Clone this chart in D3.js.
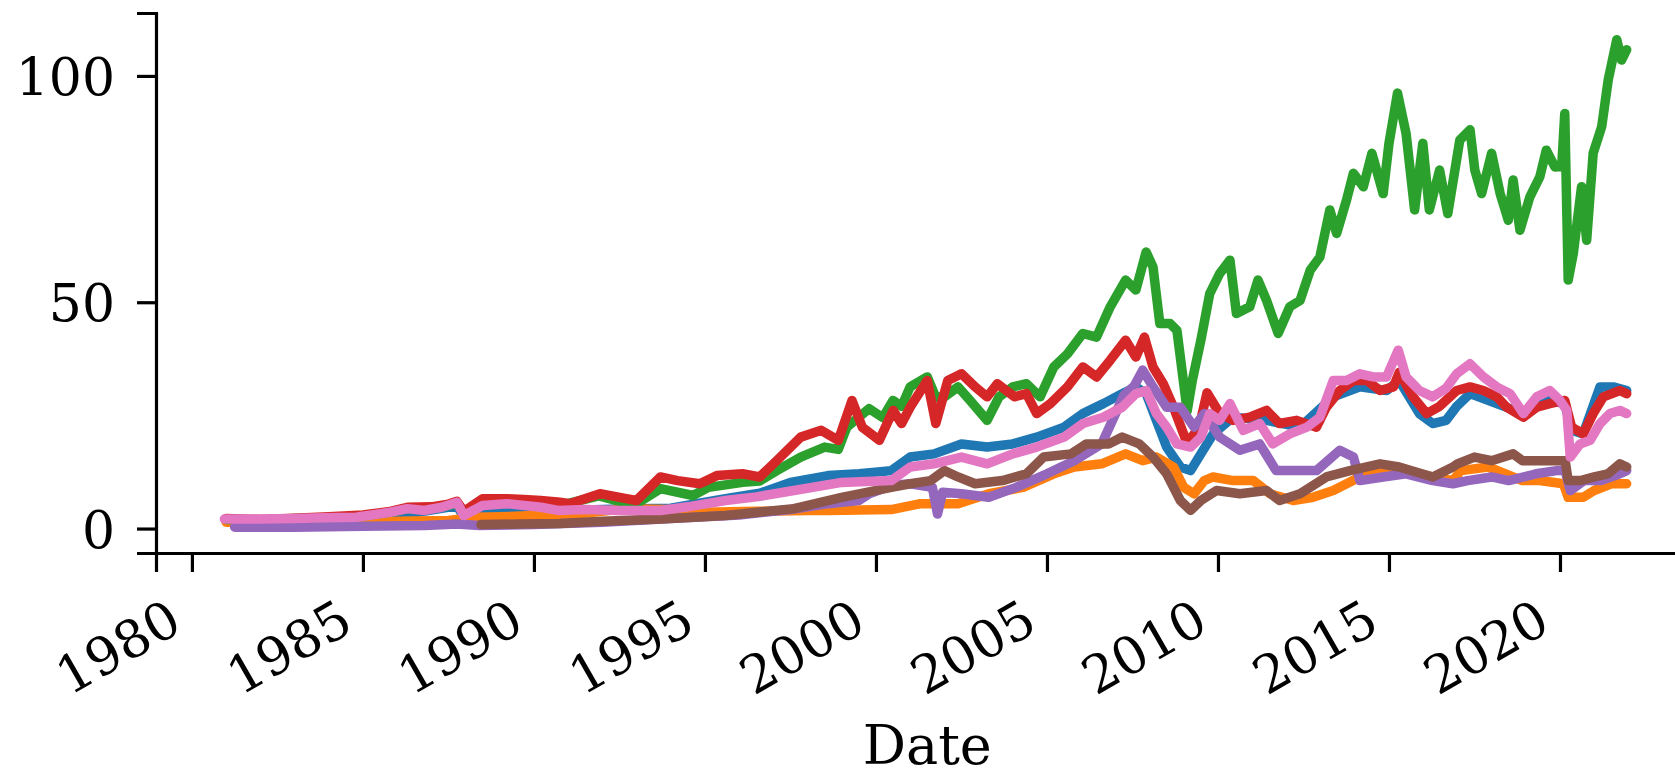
<!DOCTYPE html>
<html>
<head>
<meta charset="utf-8">
<script src="https://cdn.jsdelivr.net/npm/d3@7"></script>
<style>
  body { margin: 0; background: #fff; }
  svg { display: block; }
  text { font-family: "DejaVu Serif", serif; }
</style>
</head>
<body>
<svg id="chart" width="1675" height="777"></svg>
<script>
// Series as [decimal year, value]
const blue = [[1981.0,1.8],[1983.0,1.9],[1985.0,2.5],[1986.5,3.5],[1987.75,5.0],[1987.95,2.6],[1988.3,3.5],[1988.8,4.0],[1989.7,3.6],[1990.2,4.0],[1991.0,4.0],[1992.5,4.3],[1994.0,4.5],[1995.6,6.6],[1996.6,7.8],[1997.5,10.2],[1998.6,11.7],[1999.5,12.1],[2000.45,12.8],[2001.0,15.8],[2001.7,16.5],[2002.5,18.7],[2003.25,18.0],[2004.0,18.7],[2004.7,20.2],[2005.5,22.4],[2006.05,25.4],[2006.65,27.6],[2007.2,29.8],[2007.6,31.3],[2007.9,29.8],[2008.2,23.9],[2008.5,18.0],[2008.9,13.6],[2009.2,12.8],[2009.5,16.5],[2009.86,20.9],[2010.44,24.6],[2011.42,23.9],[2012.4,22.4],[2013.37,29.1],[2014.15,31.3],[2014.93,30.5],[2015.3,32.7],[2015.89,25.4],[2016.28,23.2],[2016.67,23.9],[2016.98,27.0],[2017.37,29.8],[2018.15,27.6],[2018.93,25.4],[2019.7,28.3],[2020.14,27.6],[2020.34,21.7],[2020.68,20.9],[2021.17,31.3],[2021.56,31.3],[2021.95,30.5]];

const orange = [[1981.0,1.4],[1983.0,1.3],[1984.5,1.4],[1986.0,1.6],[1987.5,1.8],[1988.3,2.5],[1989.0,2.6],[1990.0,2.9],[1991.0,3.0],[1992.7,4.4],[1993.9,4.2],[1995.0,3.6],[1996.5,3.8],[1998.0,4.0],[1998.6,4.0],[2000.45,4.2],[2001.3,5.5],[2002.4,5.5],[2003.3,7.7],[2004.3,9.1],[2005.2,12.1],[2005.8,13.6],[2006.6,14.3],[2007.3,16.5],[2007.8,15.0],[2008.2,15.8],[2008.7,13.6],[2009.0,9.1],[2009.3,7.7],[2009.6,10.6],[2009.86,11.4],[2010.44,10.6],[2011.03,10.6],[2011.52,7.7],[2012.2,6.2],[2012.78,6.9],[2013.37,8.4],[2013.76,9.9],[2014.15,11.4],[2015.3,13.0],[2016.28,11.4],[2016.87,10.6],[2017.1,12.8],[2017.9,13.6],[2018.9,10.6],[2019.4,10.6],[2020.1,9.9],[2020.24,6.9],[2020.68,6.9],[2021.0,8.4],[2021.5,9.9],[2021.95,9.9]];

const green = [[1981.0,2.0],[1982.0,1.9],[1983.0,2.2],[1984.0,2.3],[1985.0,2.8],[1985.8,3.6],[1986.3,4.4],[1987.3,4.7],[1987.75,5.6],[1987.95,3.2],[1988.5,5.2],[1989.2,5.8],[1990.2,5.6],[1990.8,5.2],[1991.9,7.2],[1992.7,5.6],[1993.0,5.5],[1993.7,8.8],[1994.65,7.3],[1995.1,9.1],[1996.1,10.2],[1996.6,10.5],[1997.1,12.8],[1997.8,15.8],[1998.5,18.0],[1998.9,17.5],[1999.15,22.4],[1999.8,26.5],[2000.2,24.5],[2000.5,28.3],[2000.75,27.0],[2001.0,31.3],[2001.5,33.5],[2001.75,29.0],[2002.0,29.1],[2002.4,31.3],[2002.75,28.3],[2003.25,23.9],[2003.6,29.1],[2004.0,31.3],[2004.4,32.0],[2004.8,29.1],[2005.2,35.7],[2005.6,38.6],[2006.05,43.1],[2006.45,42.3],[2006.85,49.0],[2007.3,54.9],[2007.6,52.7],[2007.9,61.1],[2008.1,57.8],[2008.3,45.3],[2008.6,45.3],[2008.8,43.8],[2009.1,26.0],[2009.25,32.7],[2009.5,41.6],[2009.76,51.9],[2010.05,56.3],[2010.35,59.3],[2010.54,47.5],[2010.93,49.0],[2011.17,54.9],[2011.42,50.4],[2011.76,43.1],[2012.1,49.0],[2012.4,50.4],[2012.7,57.1],[2012.98,60.0],[2013.27,70.4],[2013.47,65.2],[2013.76,72.6],[2013.96,78.5],[2014.25,75.5],[2014.5,82.9],[2014.83,74.0],[2015.0,85.1],[2015.25,96.2],[2015.5,87.3],[2015.75,70.4],[2015.99,85.1],[2016.18,70.4],[2016.48,79.2],[2016.72,69.6],[2017.07,85.8],[2017.37,88.1],[2017.51,79.2],[2017.71,74.0],[2018.0,82.9],[2018.25,74.0],[2018.49,68.1],[2018.63,77.0],[2018.83,65.9],[2019.12,73.3],[2019.41,77.7],[2019.6,83.6],[2019.85,79.9],[2020.05,80.0],[2020.14,91.7],[2020.24,54.9],[2020.39,60.8],[2020.63,75.5],[2020.78,63.7],[2020.97,82.9],[2021.22,88.8],[2021.41,99.1],[2021.66,108.0],[2021.8,103.5],[2021.95,105.8]];

const red = [[1981.0,2.2],[1982.0,2.0],[1983.0,2.3],[1984.0,2.6],[1985.0,3.0],[1985.8,3.8],[1986.3,4.7],[1987.0,4.8],[1987.5,5.4],[1987.75,6.0],[1987.95,3.8],[1988.5,6.6],[1989.2,6.6],[1989.7,6.4],[1990.2,6.2],[1990.76,5.8],[1991.05,5.5],[1991.93,7.7],[1992.7,6.6],[1993.0,6.2],[1993.7,11.4],[1994.2,10.6],[1994.85,9.9],[1995.35,11.7],[1996.1,12.1],[1996.6,11.4],[1997.1,15.0],[1997.8,20.2],[1998.4,21.7],[1998.9,19.5],[1999.3,28.3],[1999.6,22.4],[2000.1,19.5],[2000.5,26.1],[2000.75,23.2],[2001.0,26.8],[2001.5,32.7],[2001.75,23.2],[2002.1,32.7],[2002.5,34.2],[2002.9,31.3],[2003.25,29.1],[2003.55,32.0],[2004.05,29.1],[2004.4,29.8],[2004.7,25.4],[2005.1,27.6],[2005.6,31.3],[2006.05,35.7],[2006.45,33.5],[2006.85,37.2],[2007.3,41.6],[2007.6,37.9],[2007.85,42.3],[2008.1,35.7],[2008.4,32.0],[2008.7,26.8],[2009.1,18.8],[2009.45,22.4],[2009.68,30.0],[2010.05,25.4],[2010.44,23.9],[2010.93,24.6],[2011.42,26.1],[2011.8,23.2],[2012.3,23.9],[2012.88,22.4],[2013.17,26.8],[2013.56,30.5],[2013.96,32.7],[2014.35,32.7],[2014.74,30.5],[2015.13,31.3],[2015.3,34.5],[2015.7,29.1],[2016.1,25.4],[2016.48,27.0],[2016.98,30.5],[2017.37,31.3],[2017.76,30.5],[2018.15,29.1],[2018.44,26.8],[2018.93,24.6],[2019.32,26.8],[2019.7,27.6],[2020.14,28.3],[2020.34,22.4],[2020.68,20.9],[2020.97,25.4],[2021.27,29.1],[2021.75,30.5],[2021.95,29.8]];

const purple = [[1981.25,0.3],[1983.0,0.3],[1985.0,0.5],[1986.8,0.7],[1987.75,1.0],[1988.4,0.7],[1990.0,0.9],[1992.0,1.4],[1994.0,2.2],[1996.0,3.0],[1997.5,4.2],[1998.6,5.5],[1999.5,6.2],[1999.8,7.7],[2000.45,9.5],[2001.0,9.9],[2001.65,9.1],[2001.8,3.2],[2001.95,8.0],[2002.5,7.7],[2003.3,6.9],[2004.1,9.1],[2005.0,12.1],[2005.8,15.0],[2006.6,18.7],[2006.95,24.5],[2007.25,29.5],[2007.55,31.5],[2007.8,35.0],[2008.1,31.3],[2008.5,26.8],[2008.9,26.8],[2009.3,22.4],[2009.6,25.4],[2010.05,20.2],[2010.64,17.3],[2011.22,18.7],[2011.7,12.8],[2012.3,12.8],[2012.88,12.8],[2013.56,17.3],[2013.96,15.8],[2014.15,10.6],[2014.83,11.4],[2015.5,12.1],[2016.28,10.6],[2016.87,9.9],[2017.3,10.6],[2018.0,11.4],[2018.5,10.6],[2019.3,12.1],[2019.9,12.8],[2020.15,12.8],[2020.3,8.4],[2020.7,10.6],[2021.2,10.6],[2021.75,12.1],[2021.95,12.8]];

const brown = [[1988.45,0.9],[1989.5,1.0],[1990.76,1.1],[1992.0,1.6],[1993.7,2.1],[1995.6,2.9],[1997.6,4.4],[1999.0,6.9],[2000.45,9.1],[2001.0,9.9],[2001.6,10.6],[2002.0,12.8],[2002.4,11.4],[2002.9,9.9],[2003.7,10.6],[2004.4,12.1],[2004.9,15.8],[2005.7,16.5],[2006.15,18.7],[2006.8,18.7],[2007.2,20.2],[2007.7,18.7],[2008.1,15.8],[2008.5,12.1],[2008.9,6.2],[2009.2,4.0],[2009.5,6.2],[2009.96,8.4],[2010.64,7.7],[2011.42,8.4],[2011.8,6.2],[2012.4,7.7],[2013.17,11.4],[2013.86,12.8],[2014.74,14.3],[2015.3,13.6],[2016.28,11.4],[2016.87,13.6],[2017.0,14.3],[2017.5,15.8],[2018.0,15.0],[2018.63,16.5],[2018.9,15.0],[2019.5,15.0],[2020.15,15.0],[2020.24,10.6],[2020.6,10.6],[2021.0,11.4],[2021.4,12.1],[2021.75,14.3],[2021.95,13.6]];

const pink = [[1980.95,2.1],[1982.0,2.1],[1983.0,2.2],[1983.84,2.4],[1984.8,2.5],[1985.8,3.6],[1986.3,4.4],[1986.8,4.0],[1987.3,4.7],[1987.75,5.8],[1987.95,2.9],[1988.5,5.1],[1989.2,5.5],[1990.2,4.7],[1990.7,4.0],[1991.5,4.2],[1992.5,4.0],[1993.7,4.0],[1994.5,4.8],[1995.6,6.2],[1996.5,7.0],[1997.6,8.4],[1999.0,10.2],[2000.45,10.6],[2001.0,13.6],[2001.7,14.3],[2002.5,15.8],[2003.25,14.3],[2004.0,16.5],[2004.7,18.0],[2005.5,20.2],[2006.05,23.2],[2006.65,24.6],[2007.2,26.8],[2007.6,29.8],[2007.9,30.5],[2008.2,25.4],[2008.5,22.4],[2008.8,18.7],[2009.2,18.0],[2009.5,20.2],[2009.76,25.4],[2010.05,23.9],[2010.35,27.6],[2010.74,21.7],[2011.22,23.2],[2011.6,18.7],[2012.1,20.9],[2012.6,22.4],[2012.98,24.6],[2013.37,32.7],[2013.76,32.7],[2014.15,34.2],[2014.54,33.5],[2014.93,33.5],[2015.27,39.4],[2015.5,33.5],[2015.89,30.5],[2016.28,29.1],[2016.67,31.0],[2016.98,34.2],[2017.37,36.4],[2017.76,33.5],[2018.15,31.3],[2018.54,29.8],[2018.93,25.4],[2019.32,29.1],[2019.7,30.5],[2020.0,28.3],[2020.2,26.1],[2020.3,15.8],[2020.59,18.7],[2020.88,19.5],[2021.17,23.2],[2021.46,25.4],[2021.75,26.1],[2021.95,25.4]];

// drawing order and colours (matplotlib tab10)
const seriesList = [blue, orange, green, red, purple, brown, pink];
const seriesColors = ["#1f77b4", "#ff7f0e", "#2ca02c", "#d62728", "#9467bd", "#8c564b", "#e377c2"];

const xTicks = [1980, 1985, 1990, 1995, 2000, 2005, 2010, 2015, 2020];
const yTicks = [0, 50, 100];
const xLabel = "Date";

const svg = d3.select("#chart");
const fontSize = 52;

const margin = { left: 156, bottom: 553, top: 13, right: 1698.5 };
const x = d3.scaleLinear().domain([1978.95, 2024.05]).range([margin.left, margin.right]);
const y = d3.scaleLinear().domain([-5.4, 113.9]).range([margin.bottom, margin.top]);

// lines
const line = d3.line()
    .x(d => x(d[0]))
    .y(d => y(d[1]));

svg.append("g")
    .selectAll("path")
    .data(seriesList)
    .enter()
    .append("path")
    .attr("d", line)
    .attr("fill", "none")
    .attr("stroke", (d, i) => seriesColors[i])
    .attr("stroke-width", 9.5)
    .attr("stroke-linejoin", "round")
    .attr("stroke-linecap", "round");

// x axis
const xAxis = svg.append("g")
    .attr("transform", `translate(0, ${margin.bottom})`)
    .call(d3.axisBottom(x).tickValues(xTicks).tickFormat(d3.format("d")).tickSizeOuter(0).tickSize(19));

// rotated labels (30 deg, right aligned like autofmt_xdate)
const cap = 0.729 * fontSize;
xAxis.selectAll("text")
    .attr("x", null)
    .attr("y", null)
    .attr("dy", null)
    .attr("text-anchor", "end")
    .attr("transform", `translate(-8, ${44 + 0.866 * cap}) rotate(-30)`);

// y axis
const yAxis = svg.append("g")
    .attr("transform", `translate(${margin.left}, 0)`)
    .call(d3.axisLeft(y).tickValues(yTicks).tickSizeOuter(0).tickSize(19).tickPadding(22));

yAxis.selectAll("text").attr("dy", "0.36em");

[xAxis, yAxis].forEach(g => {
    g.attr("font-family", "DejaVu Serif").attr("font-size", fontSize);
    g.selectAll("text").attr("fill", "#000");
    g.select(".domain").attr("stroke", "#000").attr("stroke-width", 3.2);
    g.selectAll(".tick line").attr("stroke", "#000").attr("stroke-width", 3.2);
});

// axis label
svg.append("text")
    .attr("x", (margin.left + margin.right) / 2)
    .attr("y", 764)
    .attr("text-anchor", "middle")
    .attr("font-size", 54)
    .attr("fill", "#000")
    .text(xLabel);
</script>
</body>
</html>
